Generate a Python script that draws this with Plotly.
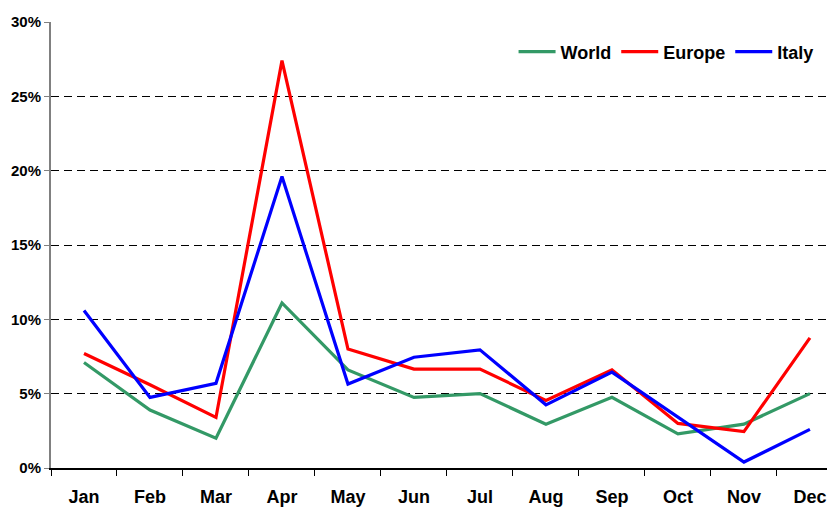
import plotly.graph_objects as go

months = ["Jan", "Feb", "Mar", "Apr", "May", "Jun", "Jul", "Aug", "Sep", "Oct", "Nov", "Dec"]
world = [7.1, 3.9, 2.0, 11.1, 6.6, 4.75, 5.0, 2.95, 4.75, 2.3, 2.95, 5.0]
europe = [7.7, 5.6, 3.4, 27.4, 8.0, 6.65, 6.65, 4.55, 6.6, 3.0, 2.45, 8.75]
italy = [10.6, 4.75, 5.7, 19.6, 5.65, 7.45, 7.95, 4.25, 6.45, 3.45, 0.4, 2.6]
y_ticks = [0, 5, 10, 15, 20, 25, 30]

font_family = "Arial, Liberation Sans, sans-serif"

fig = go.Figure()
for name, vals, color in [("World", world, "#339966"), ("Europe", europe, "#FF0000"), ("Italy", italy, "#0000FF")]:
    fig.add_trace(go.Scatter(x=months, y=vals, name=name, mode="lines",
                             line=dict(color=color, width=3.2)))

fig.update_layout(
    width=827, height=499,
    margin=dict(l=43, r=0, t=14, b=39, autoexpand=False),
    plot_bgcolor="white", paper_bgcolor="white",
    font=dict(family=font_family, color="black", weight="bold"),
    legend=dict(orientation="h", x=0.59, xanchor="left", y=0.933, yanchor="middle",
                font=dict(size=18, family=font_family, weight="bold"),
                bgcolor="rgba(0,0,0,0)", itemwidth=37, tracegroupgap=0),
    xaxis=dict(type="category", range=[-0.5, 11.38], showgrid=False,
               showline=True, linecolor="black", linewidth=1.5,
               ticks="outside", tickson="boundaries", ticklen=6, tickcolor="black",
               tickfont=dict(size=18, family=font_family, weight="bold"),
               ticklabelstandoff=12),
    yaxis=dict(range=[0, 30], tickvals=y_ticks, ticktext=[f"{v}%" for v in y_ticks],
               showgrid=True, gridcolor="black", gridwidth=1, griddash="8px,5px",
               showline=True, linecolor="#808080", linewidth=2,
               ticks="outside", ticklen=5, tickcolor="#808080",
               tickfont=dict(size=15, family=font_family, weight="bold"),
               zeroline=False),
)

fig.write_html("out.html")
